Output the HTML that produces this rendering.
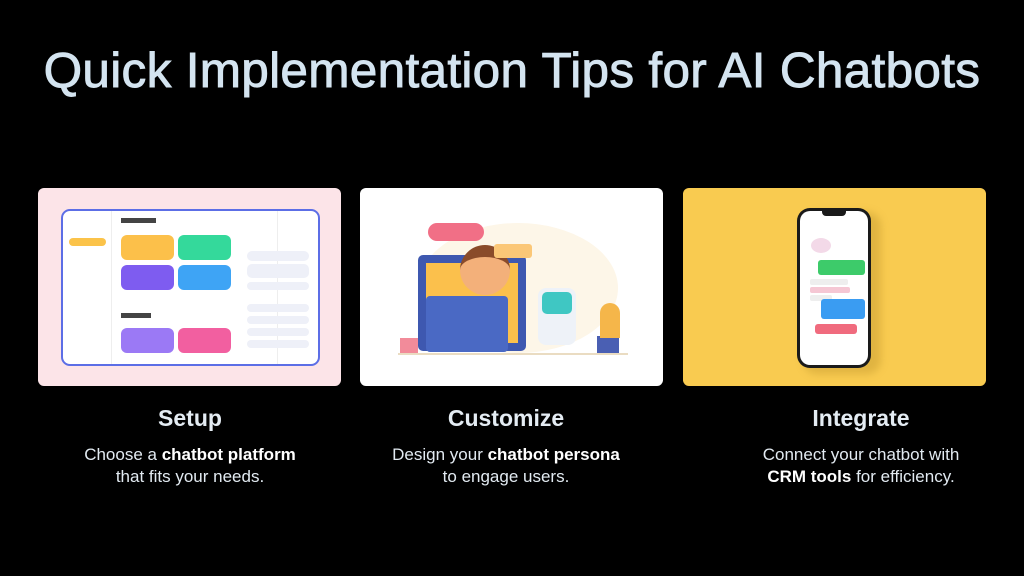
<!DOCTYPE html>
<html><head><meta charset="utf-8"><style>
*{margin:0;padding:0;box-sizing:border-box}
body{width:1024px;height:576px;background:#000;position:relative;overflow:hidden;font-family:"Liberation Sans",sans-serif;color:#dfe8f0}
.a{position:absolute}
h1{position:absolute;left:0;width:1024px;top:42px;text-align:center;font-size:49.5px;font-weight:normal;color:#d4e4f0;letter-spacing:0.3px;-webkit-text-stroke:0.9px #d4e4f0}
.card{position:absolute;top:188px;width:303px;height:198px;border-radius:6px;overflow:hidden}
.cap{position:absolute;width:360px;text-align:center}
.cap h2{font-size:23px;font-weight:bold;color:#e4ecf3;margin-top:-1px}
.cap p{font-size:17px;line-height:22px;margin-top:12px;color:#e2eaf1}
.cap b{color:#fff}
</style></head><body>
<h1>Quick Implementation Tips for AI Chatbots</h1>

<div class="card" style="left:38px;background:#fce4e8">
  <div class="a" style="left:23px;top:21px;width:259px;height:157px;background:#fff;border:2px solid #5c6ee6;border-radius:9px"></div>
  <div class="a" style="left:73px;top:23px;width:1px;height:153px;background:#eee"></div>
  <div class="a" style="left:239px;top:23px;width:1px;height:153px;background:#eee"></div>
  <div class="a" style="left:31px;top:50px;width:37px;height:8px;background:#fbc34a;border-radius:4px"></div>
  <div class="a" style="left:83px;top:47px;width:53px;height:25px;background:#fcc04a;border-radius:6px"></div>
  <div class="a" style="left:140px;top:47px;width:53px;height:25px;background:#34d99b;border-radius:6px"></div>
  <div class="a" style="left:83px;top:77px;width:53px;height:25px;background:#7e5cf0;border-radius:6px"></div>
  <div class="a" style="left:140px;top:77px;width:53px;height:25px;background:#3ea4f5;border-radius:6px"></div>
  <div class="a" style="left:83px;top:140px;width:53px;height:25px;background:#9b79f5;border-radius:6px"></div>
  <div class="a" style="left:140px;top:140px;width:53px;height:25px;background:#f25fa0;border-radius:6px"></div>
  <div class="a" style="left:83px;top:30px;width:35px;height:5px;background:#444"></div>
  <div class="a" style="left:83px;top:125px;width:30px;height:5px;background:#444"></div>
  <div class="a" style="left:209px;top:63px;width:62px;height:10px;background:#eef0f8;border-radius:5px"></div>
  <div class="a" style="left:209px;top:76px;width:62px;height:14px;background:#eef0f8;border-radius:5px"></div>
  <div class="a" style="left:209px;top:94px;width:62px;height:8px;background:#eef0f8;border-radius:5px"></div>
  <div class="a" style="left:209px;top:116px;width:62px;height:8px;background:#eef0f8;border-radius:5px"></div>
  <div class="a" style="left:209px;top:128px;width:62px;height:8px;background:#eef0f8;border-radius:5px"></div>
  <div class="a" style="left:209px;top:140px;width:62px;height:8px;background:#eef0f8;border-radius:5px"></div>
  <div class="a" style="left:209px;top:152px;width:62px;height:8px;background:#eef0f8;border-radius:5px"></div>
</div>

<div class="card" style="left:360px;background:#fff">
  <div class="a" style="left:58px;top:35px;width:200px;height:130px;background:#fdf6e8;border-radius:50%"></div>
  <div class="a" style="left:58px;top:67px;width:108px;height:96px;background:#3e58b0;border-radius:5px"></div>
  <div class="a" style="left:66px;top:75px;width:92px;height:80px;background:#fbc04c"></div>
  <div class="a" style="left:100px;top:57px;width:50px;height:50px;background:#f3b07a;border-radius:50%;border-top:12px solid #8a4b2a"></div>
  <div class="a" style="left:100px;top:110px;width:40px;height:40px;background:#f6a53a"></div>
  <div class="a" style="left:66px;top:108px;width:82px;height:56px;background:#4a69c4;border-radius:4px"></div>
  <div class="a" style="left:178px;top:100px;width:38px;height:57px;background:#eef2f8;border-radius:8px"></div>
  <div class="a" style="left:182px;top:104px;width:30px;height:22px;background:#3fc7c3;border-radius:5px"></div>
  <div class="a" style="left:40px;top:150px;width:18px;height:16px;background:#f28b9a"></div>
  <div class="a" style="left:237px;top:148px;width:22px;height:18px;background:#4a5fb3"></div>
  <div class="a" style="left:240px;top:115px;width:20px;height:35px;background:#f5b64a;border-radius:10px 10px 0 0"></div>
  <div class="a" style="left:38px;top:165px;width:230px;height:2px;background:#eadcc2"></div>
  <div class="a" style="left:68px;top:35px;width:56px;height:18px;background:#f16f86;border-radius:9px"></div>
  <div class="a" style="left:134px;top:56px;width:38px;height:14px;background:#fbc777;border-radius:3px"></div>
</div>

<div class="card" style="left:683px;background:#f9cb50">
  <div class="a" style="left:120px;top:24px;width:78px;height:162px;background:rgba(150,110,20,0.25);border-radius:14px;filter:blur(4px)"></div>
  <div class="a" style="left:114px;top:20px;width:74px;height:160px;background:#1a1a1a;border-radius:13px"></div>
  <div class="a" style="left:117px;top:23px;width:68px;height:154px;background:#fff;border-radius:10px"></div>
  <div class="a" style="left:139px;top:22px;width:24px;height:6px;background:#1a1a1a;border-radius:0 0 4px 4px"></div>
  <div class="a" style="left:135px;top:72px;width:47px;height:15px;background:#3dcb6a;border-radius:3px"></div>
  <div class="a" style="left:127px;top:91px;width:38px;height:6px;background:#eee;border-radius:2px"></div>
  <div class="a" style="left:127px;top:99px;width:40px;height:6px;background:#f5c7d4;border-radius:2px"></div>
  <div class="a" style="left:127px;top:107px;width:22px;height:6px;background:#eee;border-radius:2px"></div>
  <div class="a" style="left:138px;top:111px;width:44px;height:20px;background:#3a9cf2;border-radius:3px"></div>
  <div class="a" style="left:132px;top:136px;width:42px;height:10px;background:#f06b7e;border-radius:3px"></div>
  <div class="a" style="left:128px;top:50px;width:20px;height:15px;background:#f3d9e8;border-radius:50%"></div>
</div>

<div class="cap" style="left:10px;top:406px"><h2>Setup</h2><p>Choose a <b>chatbot platform</b><br>that fits your needs.</p></div>
<div class="cap" style="left:326px;top:406px"><h2>Customize</h2><p>Design your <b>chatbot persona</b><br>to engage users.</p></div>
<div class="cap" style="left:681px;top:406px"><h2>Integrate</h2><p>Connect your chatbot with<br><b>CRM tools</b> for efficiency.</p></div>
</body></html>
